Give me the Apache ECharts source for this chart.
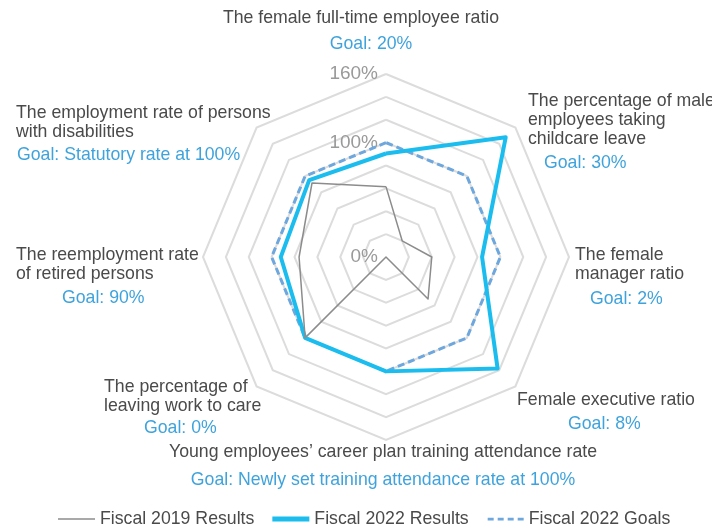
<!DOCTYPE html>
<html>
<head>
<meta charset="utf-8">
<script src="https://cdn.jsdelivr.net/npm/echarts@6/dist/echarts.min.js"></script>
<style>
html,body{margin:0;padding:0;background:#fff;}
#chart{width:712px;height:526px;}
</style>
</head>
<body>
<div id="chart"></div>
<script>
// Indicators, listed counter-clockwise from the top (ECharts radar order)
const categories = [
  "The female full-time employee ratio",
  "The employment rate of persons with disabilities",
  "The reemployment rate of retired persons",
  "The percentage of leaving work to care",
  "Young employees’ career plan training attendance rate",
  "Female executive ratio",
  "The female manager ratio",
  "The percentage of male employees taking childcare leave"
];
const nameLines = [
  ["The female full-time employee ratio"],
  ["The employment rate of persons", "with disabilities"],
  ["The reemployment rate", "of retired persons"],
  ["The percentage of", "leaving work to care"],
  ["Young employees’ career plan training attendance rate"],
  ["Female executive ratio"],
  ["The female", "manager ratio"],
  ["The percentage of male", "employees taking", "childcare leave"]
];
const goalLabels = [
  "Goal: 20%",
  "Goal: Statutory rate at 100%",
  "Goal: 90%",
  "Goal: 0%",
  "Goal: Newly set training attendance rate at 100%",
  "Goal: 8%",
  "Goal: 2%",
  "Goal: 30%"
];
const seriesNames = ["Fiscal 2019 Results", "Fiscal 2022 Results", "Fiscal 2022 Goals"];
const results2019 = [61.5, 91.5, 76, 100, 0, 52, 40, 20];
const results2022 = [90.5, 95, 92, 100, 100, 138, 84, 148];
const goals2022 = [100, 100, 100, 100, 100, 100, 100, 100];
const tickLabels = [0, 100, 160];
const axisMax = 160;

// label layout (positions of the text blocks around the chart)
const labelLayout = [
  {nx: 361, ny: 18, na: 'center', gx: 371, gy: 44, ga: 'center'},
  {nx: 16, ny: 113, na: 'left', gx: 17, gy: 155, ga: 'left'},
  {nx: 16, ny: 255, na: 'left', gx: 62, gy: 298, ga: 'left'},
  {nx: 104, ny: 387, na: 'left', gx: 144, gy: 428, ga: 'left'},
  {nx: 383, ny: 452, na: 'center', gx: 383, gy: 480, ga: 'center'},
  {nx: 517, ny: 400, na: 'left', gx: 568, gy: 424, ga: 'left'},
  {nx: 575, ny: 255, na: 'left', gx: 590, gy: 299, ga: 'left'},
  {nx: 528, ny: 101, na: 'left', gx: 544, gy: 163, ga: 'left'}
];

const FONT = '"Liberation Sans", Arial, sans-serif';
const FS = 17.7;
const NAME_COLOR = '#4a4a4a';
const GOAL_COLOR = '#3ea3dc';
const LH = 19;

const graphics = [];
labelLayout.forEach((L, i) => {
  nameLines[i].forEach((line, k) => {
    graphics.push({
      type: 'text', x: L.nx, y: L.ny + k * LH, silent: true,
      style: {text: line, fill: NAME_COLOR, fontSize: FS, fontFamily: FONT,
              align: L.na, verticalAlign: 'middle'}
    });
  });
  graphics.push({
    type: 'text', x: L.gx, y: L.gy, silent: true,
    style: {text: goalLabels[i], fill: GOAL_COLOR, fontSize: FS, fontFamily: FONT,
            align: L.ga, verticalAlign: 'middle'}
  });
});

const colors = ['#8c8c8c', '#1bbdee', '#6ea7dd'];

const option = {
  animation: false,
  backgroundColor: '#fff',
  textStyle: {fontFamily: FONT},
  legend: {
    left: 53,
    top: 505,
    itemWidth: 37,
    itemHeight: 6,
    itemGap: 18,
    textStyle: {fontSize: FS, color: NAME_COLOR, fontFamily: FONT},
    itemStyle: {borderWidth: 0},
    data: [
      {name: seriesNames[0], icon: 'path://M0,0M37,6M0,2.3h37v1.5h-37z'},
      {name: seriesNames[1], icon: 'path://M0,0M37,6M0,0.6h37v4.8h-37z'},
      {name: seriesNames[2], icon: 'path://M0,0M37,6M1,1.8h6v2.6h-6zM11,1.8h6v2.6h-6zM21,1.8h6v2.6h-6zM31,1.8h6v2.6h-6z'}
    ]
  },
  radar: {
    center: [386, 257],
    radius: 183,
    shape: 'polygon',
    splitNumber: 8,
    startAngle: 90,
    indicator: categories.map((c, i) => i === 0 ? {
      name: c, min: 0, max: axisMax,
      axisLabel: {show: true}
    } : {name: c, min: 0, max: axisMax}),
    axisName: {show: false},
    axisLine: {show: false},
    axisTick: {show: false},
    axisLabel: {
      show: false,
      color: '#9a9a9a',
      fontSize: 19,
      fontFamily: FONT,
      margin: 8,
      formatter: v => tickLabels.indexOf(v) >= 0 ? v + '%' : ''
    },
    splitLine: {lineStyle: {color: '#dcdcdc', width: 2}},
    splitArea: {show: false}
  },
  graphic: graphics,
  series: [{
    type: 'radar',
    symbol: 'none',
    silent: true,
    data: [
      {name: seriesNames[2], value: goals2022,
       itemStyle: {color: colors[2]},
       lineStyle: {color: colors[2], width: 3, type: [7, 4]}},
      {name: seriesNames[1], value: results2022,
       itemStyle: {color: colors[1]},
       lineStyle: {color: colors[1], width: 4}},
      {name: seriesNames[0], value: results2019,
       itemStyle: {color: colors[0]},
       lineStyle: {color: colors[0], width: 1.5}}
    ]
  }]
};

const chart = echarts.init(document.getElementById('chart'), null, {renderer: 'canvas'});
chart.setOption(option);
</script>
</body>
</html>
